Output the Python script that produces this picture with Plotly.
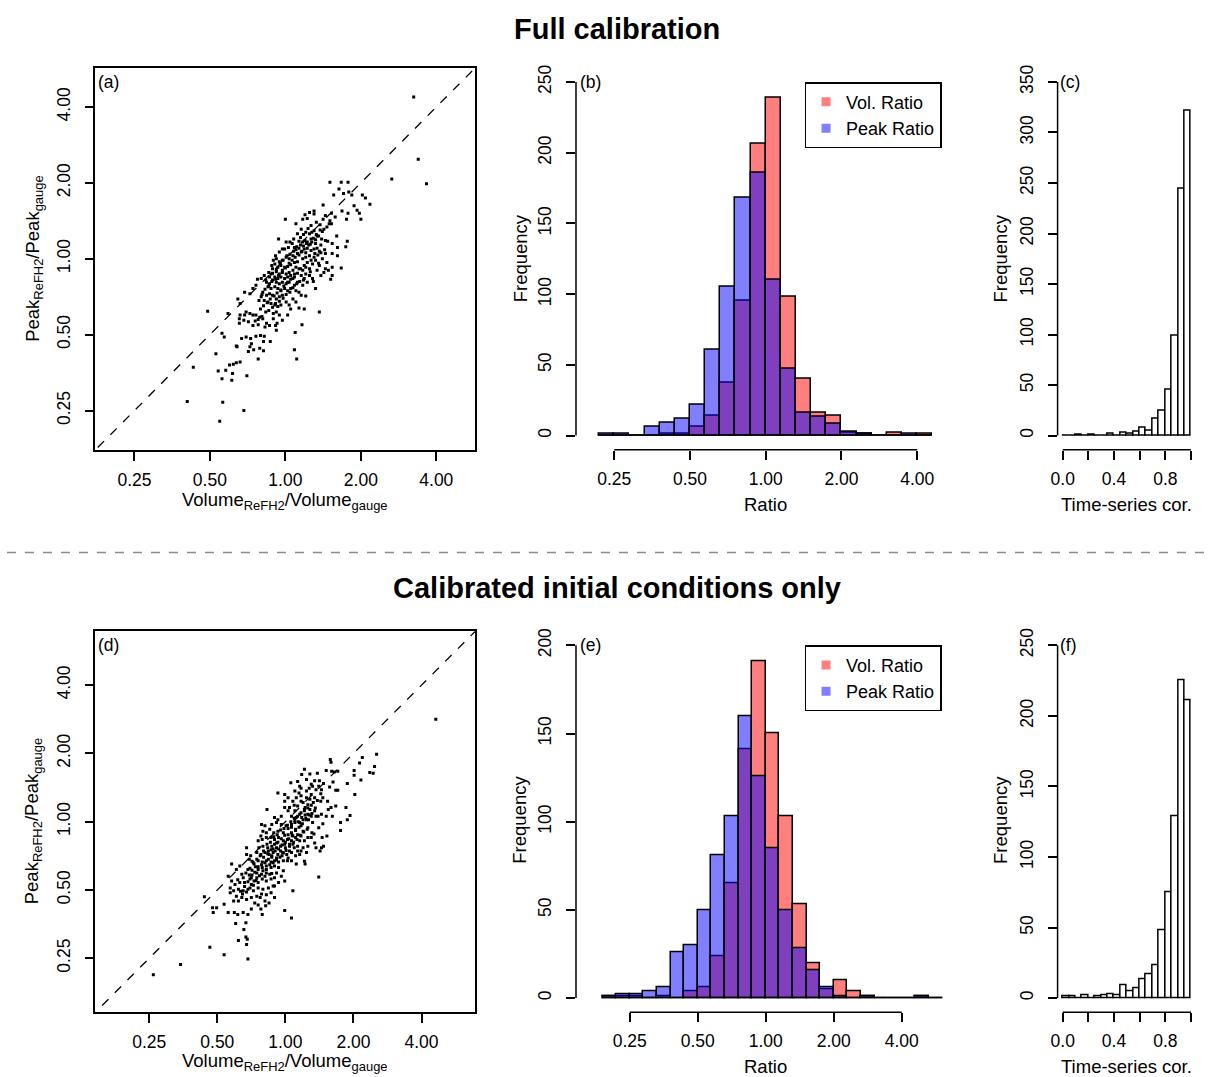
import plotly.graph_objects as go

# ---- scatter data: log2 of the ratios (a) and (d) ----
a_vol = [1.76, 1.41, 1.87, 0.59, 0.74, 0.83, 0.71, 0.64, 0.77, 0.84,
         0.88, 1.02, 1.06, 1.12, 0.50, 0.75, 0.83, 0.91, 0.95, 0.98,
         1.00, 0.81, 0.61, 0.53, 0.00, 0.14, 0.26, 0.32, 0.38, 0.38,
         0.29, 0.23, 0.50, 0.46, 0.58, 0.61, 0.51, 0.38, 0.35, 0.32,
         0.27, 0.24, 0.20, 0.18, 0.23, 0.26, 0.68, 0.82, 0.80, 0.69,
         0.62, 0.56, 0.53, 0.48, -0.09, 0.01, 0.04, -0.01, 0.09, 0.12,
         0.14, 0.18, 0.16, 0.21, 0.25, 0.29, 0.34, 0.38, 0.42, 0.45,
         0.39, 0.32, 0.27, 0.23, 0.49, 0.69, 0.74, 0.62, 0.57, 0.62,
         0.60, 0.51, 0.42, 0.47, 0.40, 0.36, 0.32, 0.27, 0.25, 0.23,
         0.27, 0.21, 0.18, 0.14, 0.25, 0.18, 0.45, 0.22, 0.13, 0.12,
         0.15, 0.10, 0.05, 0.01, -0.04, -0.08, -0.12, -0.14, -0.10, -0.06,
         -0.01, 0.03, 0.07, 0.12, 0.16, 0.14, 0.10, 0.05, 0.01, -0.04,
         -0.08, -0.12, -0.17, -0.19, -0.14, -0.10, -0.06, -0.01, 0.03, 0.07,
         0.12, 0.10, 0.05, 0.01, -0.04, -0.08, -0.12, -0.17, -0.21, -0.25,
         -0.23, -0.19, -0.14, -0.10, -0.06, -0.01, 0.03, 0.07, 0.12, -0.04,
         -0.08, -0.12, -0.17, -0.21, -0.25, -0.30, -0.32, -0.28, -0.23, -0.19,
         -0.14, -0.10, -0.06, 0.01, 0.05, 0.10, 0.14, 0.07, 0.03, -0.08,
         -0.12, -0.16, -0.16, -0.11, -0.13, -0.21, -0.25, -0.30, -0.34, -0.39,
         -0.43, -0.47, -0.52, -0.54, -0.60, -0.61, -0.61, -0.55, -0.49, -0.43,
         -0.36, -0.27, -0.12, -0.04, -0.58, -0.52, -0.46, -0.39, -0.33, -0.28,
         -0.20, -0.29, -0.45, -0.47, -0.49, -0.42, -0.34, -0.29, -0.36, -0.64,
         -0.92, -0.60, -0.65, -0.69, -0.74, -0.79, -0.89, -0.84, -0.71, -0.70,
         -0.51, -1.22, -1.03, -0.84, -0.81, -0.65, -0.83, -0.55, -0.87, -1.30,
         -0.76, -0.63, -0.60, -0.54, -0.47, -0.43, -0.39, -0.37, -0.32, -0.28,
         -0.22, -0.18, -0.16, -0.13, -0.08, -0.04, 0.06, 0.11, 0.16, 0.21,
         0.53, 0.45, 0.36, 0.32, 0.27, 0.23, 0.21, 0.16, 0.18, 0.40,
         0.62, 0.53, 0.47, 0.40, 0.29, 0.34, 0.42, 0.34, 0.41, 0.30, 1.70,
         # dense core
         -0.35, -0.31, -0.27, -0.22, -0.18, -0.13, -0.09, -0.04, 0.00, 0.05,
         0.09, 0.13, 0.18, 0.22, 0.27, 0.31, 0.35, 0.40, 0.44, 0.49,
         -0.33, -0.29, -0.24, -0.20, -0.15, -0.11, -0.06, -0.02, 0.03, 0.07,
         0.12, 0.16, 0.20, 0.25, 0.29, 0.34, 0.38, 0.43, 0.47, 0.52,
         -0.26, -0.21, -0.17, -0.12, -0.07, -0.03, 0.02, 0.06, 0.11, 0.15,
         0.20, 0.24, 0.28, 0.33, 0.37, 0.41, 0.46, 0.55, 0.59, 0.66,
         -0.40, -0.36, -0.31, -0.26, -0.22, -0.17, -0.13, -0.08, -0.03, 0.01,
         0.06, 0.10, 0.15, 0.19, 0.24, 0.29, 0.33, 0.37, 0.44, 0.55]
a_peak = [1.31, 1.05, 0.99, 1.01, 1.01, 1.01, 0.92, 0.84, 0.86, 0.88,
          0.84, 0.84, 0.80, 0.72, 0.71, 0.63, 0.60, 0.70, 0.64, 0.60,
          0.52, 0.52, 0.60, 0.57, 0.52, 0.46, 0.58, 0.61, 0.63, 0.59,
          0.53, 0.52, 0.52, 0.45, 0.46, 0.46, 0.39, 0.37, 0.35, 0.33,
          0.35, 0.32, 0.28, 0.23, 0.22, 0.24, 0.30, 0.23, 0.16, 0.15,
          0.20, 0.23, 0.24, 0.26, 0.26, 0.22, 0.15, 0.13, 0.20, 0.15,
          0.12, 0.14, 0.07, 0.09, 0.13, 0.14, 0.11, 0.13, 0.14, 0.10,
          0.07, 0.04, 0.02, 0.00, 0.00, 0.04, -0.12, -0.11, -0.15, -0.22,
          -0.27, -0.18, -0.15, -0.22, -0.39, -0.26, -0.22, -0.20, -0.26, -0.35,
          -0.49, -0.48, -0.44, -0.42, -0.66, -0.65, -0.70, -0.87, -0.97, -1.20,
          -1.32, 0.04, 0.00, 0.02, -0.02, -0.04, 0.00, -0.07, -0.11, -0.09,
          -0.11, -0.10, -0.08, -0.05, -0.04, -0.11, -0.15, -0.18, -0.20, -0.18,
          -0.20, -0.17, -0.13, -0.20, -0.24, -0.26, -0.24, -0.26, -0.24, -0.22,
          -0.20, -0.26, -0.31, -0.33, -0.31, -0.33, -0.31, -0.28, -0.33, -0.31,
          -0.37, -0.39, -0.37, -0.39, -0.42, -0.39, -0.42, -0.39, -0.35, -0.48,
          -0.50, -0.53, -0.48, -0.46, -0.48, -0.44, -0.50, -0.55, -0.57, -0.59,
          -0.61, -0.63, -0.61, -0.57, -0.61, -0.53, -0.57, -0.66, -0.74, -0.74,
          -0.70, -0.72, -0.79, -0.85, -0.88, -0.88, -0.85, -0.79, -0.77, -0.74,
          -0.74, -0.72, -0.70, -0.74, -0.74, -0.79, -0.85, -0.81, -0.83, -0.88,
          -0.87, -0.90, -0.94, -0.81, -1.05, -1.03, -1.05, -1.02, -1.01, -1.02,
          -1.09, -1.09, -1.12, -1.16, -1.22, -1.20, -1.18, -1.21, -1.32, -1.16,
          -1.25, -1.36, -1.37, -1.39, -1.40, -1.47, -1.48, -1.58, -1.60, -1.51,
          -1.54, -1.43, -0.69, -0.98, -1.03, -1.15, -1.89, -2.00, -2.14, -1.88,
          -0.72, -0.53, -0.59, -0.44, -0.46, -0.39, -0.35, -0.27, -0.26, -0.22,
          -0.18, -0.09, -0.02, 0.04, 0.09, 0.13, 0.22, 0.26, 0.33, 0.39,
          -0.13, -0.09, -0.07, -0.13, -0.11, -0.15, -0.22, -0.31, -0.13, -0.02,
          0.07, 0.07, 0.18, 0.20, 0.22, 0.26, 0.30, 0.44, 0.48, 0.40, 2.13,
          # dense core
          -0.55, -0.47, -0.40, -0.36, -0.30, -0.27, -0.22, -0.15, -0.12, -0.06,
          -0.02, 0.02, 0.05, 0.10, 0.08, 0.18, 0.22, 0.25, 0.30, 0.36,
          -0.66, -0.62, -0.58, -0.53, -0.49, -0.45, -0.41, -0.36, -0.31, -0.27,
          -0.24, -0.19, -0.13, -0.09, -0.05, -0.02, 0.02, 0.05, 0.08, 0.12,
          -0.28, -0.24, -0.19, -0.14, -0.06, -0.02, 0.04, 0.06, 0.10, 0.16,
          0.18, 0.17, 0.20, 0.19, 0.27, 0.32, 0.38, 0.42, 0.50, 0.55,
          -0.82, -0.80, -0.76, -0.70, -0.68, -0.64, -0.59, -0.56, -0.52, -0.47,
          -0.44, -0.38, -0.33, -0.30, -0.28, -0.31, -0.17, -0.30, -0.06, -0.05]

d_vol = [1.34, 1.31, 1.29, 1.24, 1.13, 1.09, 1.01, 1.01, 1.11, 0.91,
         1.02, 0.89, 0.81, 0.81, 0.91, 0.95, 0.66, 0.67, 0.77, 0.72,
         0.68, 0.60, 0.77, 0.74, 0.70, 0.65, 0.63, 0.67, 0.74, 0.69,
         0.61, 0.56, 0.51, 0.49, 0.53, 0.45, 0.43, 0.39, 0.42, 0.38,
         0.54, 0.49, 0.55, 0.60, 0.53, 0.45, 0.43, 0.47, 0.52, 0.52,
         0.53, 0.49, 0.45, 0.43, 0.47, 0.38, 0.35, 0.38, 0.36, 0.31,
         0.33, 0.26, 0.28, 0.33, 0.24, 0.31, 0.36, 0.21, 0.20, 0.16,
         0.08, 0.11, 0.18, 0.14, 0.21, 0.26, 0.21, 0.16, 0.09, -0.01,
         -0.11, -0.01, 0.04, -0.06, -0.11, -0.16, -0.27, -0.20, -0.13, -0.06,
         0.01, 0.09, 0.15, 0.09, 0.04, -0.03, -0.11, -0.17, -0.23, -0.28,
         -0.30, -0.35, -0.33, -0.36, -0.40, -0.34, -0.28, -0.21, -0.16, -0.10,
         -0.03, 0.03, 0.09, 0.15, 0.21, 0.23, 0.28, 0.33, 0.26, 0.18,
         0.13, 0.06, 0.00, -0.07, -0.13, -0.20, -0.26, -0.33, -0.39, -0.42,
         -0.36, -0.30, -0.24, -0.18, -0.11, -0.04, 0.02, 0.09, 0.15, 0.21,
         0.28, 0.29, 0.16, 0.09, 0.03, -0.03, -0.10, -0.16, -0.21, -0.28,
         -0.34, -0.40, -0.46, -0.40, -0.34, -0.28, -0.21, -0.16, -0.10, -0.03,
         -0.13, -0.20, -0.28, -0.35, -0.42, -0.49, -0.55, -0.57, -0.57, -0.53,
         -0.79, -0.67, -0.84, -0.79, -0.74, -0.67, -0.62, -0.60, -0.52, -0.46,
         -0.40, -0.34, -0.28, -0.21, -0.16, -0.06, -0.10, -0.18, -0.25, -0.33,
         -0.40, -0.47, -0.55, -0.62, -0.69, -0.76, -0.81, -0.72, -0.64, -0.57,
         -0.50, -0.42, -0.35, -0.28, -0.21, -0.16, -0.16, -0.01, 0.11, -0.01,
         0.09, -0.90, -0.84, -0.75, -0.70, -0.62, -0.55, -0.50, -0.36, -0.34,
         -0.29, -0.24, -0.40, -0.45, -1.07, -1.01, -1.06, -1.19, -0.73, -0.58,
         -0.61, -0.69, -0.58, -0.56, -0.57, -1.11, -0.90, -0.55, -1.54, -0.51,
         -0.49, -0.64, -0.72, -0.81, -0.76, -0.69, -0.37, -0.30, -0.50, -0.42,
         -0.53, -0.30, -0.23, -0.13, -0.07, -0.01, 0.06, -0.18, -0.25, -0.20,
         -0.13, -0.05, 0.04, 0.11, 0.18, 0.23, 0.31, 0.33, 0.26, 0.18,
         0.11, 0.06, 0.13, 0.23, 0.29, 0.36, 0.38, 0.31, 0.23, 0.14,
         0.33, 0.40, 0.48, 0.38, 0.43, 0.31, 0.23, 0.04, -0.01, 0.18,
         0.14, 0.23, 0.40, 0.50, 0.56, 0.55, 0.62, 0.28, 2.21, -1.94,
         # dense core
         -0.60, -0.55, -0.50, -0.45, -0.40, -0.35, -0.30, -0.25, -0.20, -0.15,
         -0.10, -0.05, 0.00, 0.05, 0.10, 0.15, 0.20, 0.25, 0.30, 0.35,
         -0.58, -0.52, -0.47, -0.42, -0.37, -0.32, -0.27, -0.22, -0.17, -0.12,
         -0.07, -0.02, 0.03, 0.08, 0.13, 0.18, 0.23, 0.28, 0.33, 0.41,
         -0.63, -0.57, -0.52, -0.47, -0.43, -0.38, -0.33, -0.28, -0.23, -0.18,
         -0.13, -0.08, -0.03, 0.01, 0.06, 0.12, 0.17, 0.22, 0.27, 0.32,
         -0.32, -0.26, -0.21, -0.16, -0.11, -0.06, -0.01, 0.04, 0.09, 0.14,
         0.19, 0.24, 0.29, 0.34, 0.39, 0.44, -0.44, -0.49, -0.70, -0.66]
d_peak = [0.99, 0.81, 0.71, 0.72, 0.94, 0.86, 0.75, 0.68, 0.61, 0.56,
          0.40, 0.21, -0.01, -0.13, 0.03, 0.09, 0.91, 0.87, 0.74, 0.73,
          0.74, 0.75, 0.46, 0.46, 0.58, 0.51, 0.18, 0.21, 0.23, 0.08,
          -0.21, -0.36, -0.43, -0.81, -0.38, -0.38, -0.31, -0.16, -0.18, -0.23,
          -0.23, -0.09, -0.03, 0.08, 0.11, 0.08, 0.16, 0.31, 0.30, 0.41,
          0.47, 0.52, 0.47, 0.60, 0.71, 0.55, 0.49, 0.40, 0.33, 0.35,
          0.25, 0.28, 0.16, 0.11, 0.69, 0.62, 0.70, 0.52, 0.42, 0.35,
          0.57, 0.30, 0.23, 0.16, 0.11, 0.03, -0.01, 0.06, 0.08, 0.30,
          0.42, 0.21, 0.16, 0.08, 0.03, 0.06, 0.18, -0.04, -0.01, -0.04,
          -0.06, -0.04, -0.11, -0.16, -0.19, -0.16, -0.14, -0.16, -0.11, -0.16,
          -0.06, -0.04, -0.14, -0.21, -0.28, -0.26, -0.23, -0.23, -0.26, -0.23,
          -0.28, -0.26, -0.28, -0.23, -0.28, -0.21, -0.28, -0.36, -0.38, -0.36,
          -0.38, -0.36, -0.38, -0.36, -0.38, -0.36, -0.38, -0.36, -0.38, -0.45,
          -0.48, -0.45, -0.48, -0.45, -0.48, -0.45, -0.48, -0.45, -0.50, -0.48,
          -0.58, -0.62, -0.62, -0.57, -0.57, -0.57, -0.59, -0.57, -0.59, -0.57,
          -0.59, -0.57, -0.62, -0.66, -0.67, -0.65, -0.67, -0.65, -0.67, -0.72,
          -0.75, -0.76, -0.75, -0.77, -0.75, -0.71, -0.70, -0.38, -0.48, -0.55,
          -0.62, -0.65, -0.80, -0.87, -0.92, -0.89, -0.82, -0.89, -0.84, -0.87,
          -0.89, -0.84, -0.87, -0.84, -0.82, -0.80, -0.89, -0.94, -0.97, -0.99,
          -0.97, -1.01, -0.99, -1.01, -0.99, -1.01, -1.04, -1.09, -1.11, -1.14,
          -1.11, -1.09, -1.06, -1.07, -1.04, -1.11, -0.94, -0.87, -1.01, -1.30,
          -1.41, -1.21, -1.33, -1.33, -1.36, -1.33, -1.36, -1.28, -1.28, -1.36,
          -1.23, -1.19, -1.22, -1.19, -1.26, -1.26, -1.33, -1.10, -1.49, -1.48,
          -1.58, -1.74, -1.69, -1.72, -1.80, -1.84, -1.95, -2.01, -2.09, -0.50,
          -0.58, -0.77, -0.70, -0.97, -1.16, -1.16, -1.11, -1.16, -0.92, -0.82,
          -0.78, -0.80, -0.77, -0.31, -0.43, -0.33, -0.43, -0.40, -0.43, -0.50,
          -0.53, -0.50, -0.53, -0.33, -0.43, -0.43, -0.45, -0.23, -0.14, -0.19,
          -0.21, 0.21, 0.24, 0.30, 0.21, 0.18, 0.08, 0.03, -0.06, -0.01,
          -0.09, -0.01, 0.08, 0.24, 0.35, 0.45, 0.38, 0.35, 0.40, 0.59,
          0.45, 0.49, 0.52, 0.60, 0.56, 0.35, 0.30, 0.77, 1.50, -2.24,
          # dense core
          -0.95, -0.88, -0.82, -0.74, -0.70, -0.63, -0.60, -0.55, -0.52, -0.43,
          -0.40, -0.34, -0.30, -0.25, -0.20, -0.13, -0.08, -0.03, 0.05, 0.10,
          -0.75, -0.68, -0.60, -0.55, -0.50, -0.43, -0.33, -0.30, -0.22, -0.19,
          -0.12, -0.10, -0.05, 0.00, 0.05, 0.08, 0.13, 0.18, 0.20, 0.28,
          -1.06, -1.03, -0.97, -0.93, -0.86, -0.79, -0.72, -0.70, -0.63, -0.60,
          -0.56, -0.52, -0.46, -0.42, -0.33, -0.30, -0.26, -0.20, -0.15, -0.11,
          -0.52, -0.47, -0.41, -0.33, -0.30, -0.25, -0.20, -0.10, -0.08, 0.02,
          0.00, 0.06, 0.10, 0.03, 0.12, 0.20, -0.66, -0.78, -0.85, -1.02]

# ---- ratio histograms: bin centres in log2(ratio), counts per bin ----
b_bins = [-2.1, -1.9, -1.7, -1.5, -1.3, -1.1, -0.9, -0.7, -0.5, -0.3, -0.1,
          0.1, 0.3, 0.5, 0.7, 0.9, 1.1, 1.3, 1.5, 1.7, 1.9, 2.1]
b_vol = [0, 0, 0, 0, 1, 1, 6, 14, 37, 95, 206,
         239, 98, 40, 16, 14, 2, 1, 0, 2, 0, 1]
b_peak = [1, 1, 0, 6, 9, 12, 22, 61, 105, 168, 186,
          110, 47, 16, 13, 8, 3, 1, 0, 0, 1, 0]

e_bins = [-2.3, -2.1, -1.9, -1.7, -1.5, -1.3, -1.1, -0.9, -0.7, -0.5, -0.3, -0.1,
          0.1, 0.3, 0.5, 0.7, 0.9, 1.1, 1.3, 1.5, 1.7, 1.9, 2.1, 2.3, 2.5]
e_vol = [1, 1, 1, 0, 1, 0, 4, 6, 24, 65, 141, 191,
         150, 103, 53, 20, 5, 10, 4, 1, 0, 0, 0, 1, 0]
e_peak = [1, 2, 2, 4, 6, 26, 30, 50, 81, 103, 160, 126,
          85, 50, 28, 16, 6, 1, 0, 1, 0, 0, 0, 1, 0]

# ---- time-series correlation histograms ----
cor_bins = [0.025, 0.075, 0.125, 0.175, 0.225, 0.275, 0.325, 0.375, 0.425, 0.475,
            0.525, 0.575, 0.625, 0.675, 0.725, 0.775, 0.825, 0.875, 0.925, 0.975]
c_counts = [0, 0, 1, 0, 1, 0, 0, 2, 0, 3, 2, 4, 8, 5, 17, 25, 45, 99, 244, 321]
f_counts = [1, 1, 0, 2, 0, 1, 2, 3, 2, 9, 5, 7, 13, 17, 23, 48, 75, 129, 225, 211]

ratio_ticks = [-2, -1, 0, 1, 2]
ratio_labels = ["0.25", "0.50", "1.00", "2.00", "4.00"]
cor_ticks = [0, 0.4, 0.8]
cor_labels = ["0.0", "0.4", "0.8"]
cor_unlabelled = [0.2, 0.6, 1.0]

W, H = 1210, 1077
FONT = "Liberation Sans, Arial, Helvetica, sans-serif"
RED = "rgba(255,0,0,0.5)"
BLUE = "rgba(0,0,255,0.5)"


def px(x):
    return x / W


def py(y):
    return 1 - y / H


# column and row domains (paper fractions)
col_a = [px(89), px(471)]
col_b = [px(572.3), px(954)]
col_c = [px(1056.7), px(1196)]
row_top = [py(448), py(65)]
row_bot = [py(1012), py(630)]

fig = go.Figure()

# scatter panels with 1:1 line
for xs, ys, n in [(a_vol, a_peak, ""), (d_vol, d_peak, "4")]:
    fig.add_trace(go.Scatter(x=[-4, 4], y=[-4, 4], mode="lines",
                             line=dict(color="black", dash="dash", width=1.3),
                             xaxis="x" + n, yaxis="y" + n,
                             showlegend=False, hoverinfo="skip"))
    fig.add_trace(go.Scatter(x=xs, y=ys, mode="markers",
                             marker=dict(symbol="square", size=3, color="black"),
                             xaxis="x" + n, yaxis="y" + n, showlegend=False))

# overlaid ratio histograms
for bins, vol, peak, n in [(b_bins, b_vol, b_peak, "2"), (e_bins, e_vol, e_peak, "5")]:
    for counts, col in [(vol, RED), (peak, BLUE)]:
        fig.add_trace(go.Bar(x=bins, y=counts, width=0.2,
                             marker=dict(color=col, line=dict(color="black", width=1.5)),
                             xaxis="x" + n, yaxis="y" + n, showlegend=False))

# correlation histograms
for counts, n in [(c_counts, "3"), (f_counts, "6")]:
    fig.add_trace(go.Bar(x=cor_bins, y=counts, width=0.05,
                         marker=dict(color="white", line=dict(color="black", width=1.5)),
                         xaxis="x" + n, yaxis="y" + n, showlegend=False))

# legend entries
for leg in ["legend", "legend2"]:
    for name, col in [("Vol. Ratio", RED), ("Peak Ratio", BLUE)]:
        fig.add_trace(go.Scatter(x=[None], y=[None], mode="markers", name=name,
                                 marker=dict(symbol="square", size=9, color=col),
                                 xaxis="x2", yaxis="y2", legend=leg))

tick_common = dict(ticks="outside", ticklen=9, tickwidth=1.5, tickcolor="black",
                   showgrid=False, zeroline=False, tickfont=dict(size=17.5))


def scatter_axes(dom_x, dom_y, rng, anchor):
    xa = dict(domain=dom_x, range=[-rng, rng], anchor="y" + anchor,
              tickvals=ratio_ticks, ticktext=ratio_labels, ticklabelstandoff=4,
              showline=True, mirror=True, linecolor="black", linewidth=1.5, **tick_common)
    ya = dict(domain=dom_y, range=[-rng, rng], anchor="x" + anchor,
              tickvals=ratio_ticks, ticktext=ratio_labels, tickangle=-90, ticklabelstandoff=8,
              showline=True, mirror=True, linecolor="black", linewidth=1.5, **tick_common)
    return xa, ya


def hist_axes(dom_x, dom_y, xr, yr, xt, xl, yt, anchor, minor=None):
    xa = dict(domain=dom_x, range=xr, anchor="y" + anchor, ticklabelstandoff=4,
              tickvals=xt, ticktext=xl, showline=False, **tick_common)
    if minor:
        xa["minor"] = dict(tickvals=minor, ticks="outside", ticklen=9, tickwidth=1.5,
                           tickcolor="black", showgrid=False)
    ya = dict(domain=dom_y, range=yr, anchor="x" + anchor, ticklabelstandoff=8,
              tickvals=yt, ticktext=[str(v) for v in yt], tickangle=-90,
              showline=False, **tick_common)
    return xa, ya


xa1, ya1 = scatter_axes(col_a, row_top, 2.516, "")
xa4, ya4 = scatter_axes(col_a, row_bot, 2.79, "4")
xa2, ya2 = hist_axes(col_b, row_top, [-2.505, 2.505], [-10, 260], ratio_ticks, ratio_labels,
                     [0, 50, 100, 150, 200, 250], "2")
xa5, ya5 = hist_axes(col_b, row_bot, [-2.79, 2.79], [-8, 208], ratio_ticks, ratio_labels,
                     [0, 50, 100, 150, 200], "5")
xa3, ya3 = hist_axes(col_c, row_top, [-0.04, 1.04], [-14, 364], cor_ticks, cor_labels,
                     [0, 50, 100, 150, 200, 250, 300, 350], "3", cor_unlabelled)
xa6, ya6 = hist_axes(col_c, row_bot, [-0.04, 1.04], [-10, 260], cor_ticks, cor_labels,
                     [0, 50, 100, 150, 200, 250], "6", cor_unlabelled)

# R-style axis lines that only span the tick range
shapes = []
for n, x0, x1, y1 in [("2", -2, 2, 250), ("5", -2, 2, 200), ("3", 0, 1, 350), ("6", 0, 1, 250)]:
    shapes.append(dict(type="line", xref="x" + n, yref="y" + n + " domain",
                       x0=x0, x1=x1, y0=0, y1=0, line=dict(color="black", width=1.5)))
    shapes.append(dict(type="line", xref="x" + n + " domain", yref="y" + n,
                       x0=0, x1=0, y0=0, y1=y1, line=dict(color="black", width=1.5)))
shapes.append(dict(type="line", xref="paper", yref="paper", x0=0, x1=1,
                   y0=py(551), y1=py(551), line=dict(color="#8c8c8c", width=1.5, dash="dash")))

ann = []


def label(text, x, y, size=18.5, angle=0, bold=False, xanchor="center"):
    ann.append(dict(text="<b>%s</b>" % text if bold else text, x=px(x), y=py(y),
                    xref="paper", yref="paper", showarrow=False, textangle=angle,
                    xanchor=xanchor, yanchor="middle", font=dict(size=size)))


label("Full calibration", 614, 26, size=29, bold=True)
label("Calibrated initial conditions only", 614, 587, size=29, bold=True)

vol_title = "Volume<sub>ReFH2</sub>/Volume<sub>gauge</sub>"
peak_title = "Peak<sub>ReFH2</sub>/Peak<sub>gauge</sub>"
for top, yx, ylab in [(0, 499, 256.7), (563, 1062, 820.7)]:
    label(vol_title, 280, yx)
    label(peak_title, 27, ylab, angle=-90)
    label("Ratio", 763, 503 + top)
    label("Frequency", 516, 256 + top, angle=-90)
    label("Frequency", 999, 256 + top, angle=-90)
    label("Time-series cor.", 1126, 503 + top)

for t, x, y in [("(a)", 90, 79), ("(b)", 574, 79), ("(c)", 1057, 79),
                ("(d)", 90, 644), ("(e)", 574, 644), ("(f)", 1057, 644)]:
    label(t, x, y, size=17.5, xanchor="left")

leg_style = dict(xref="paper", yref="paper", xanchor="right", yanchor="top",
                 bordercolor="black", borderwidth=1.5, bgcolor="white",
                 font=dict(size=18), tracegroupgap=0, itemwidth=30)

fig.update_layout(
    width=W, height=H,
    margin=dict(l=0, r=0, t=0, b=0),
    paper_bgcolor="white", plot_bgcolor="white",
    font=dict(family=FONT, size=17.5, color="black"),
    barmode="overlay", bargap=0,
    xaxis=xa1, yaxis=ya1, xaxis2=xa2, yaxis2=ya2, xaxis3=xa3, yaxis3=ya3,
    xaxis4=xa4, yaxis4=ya4, xaxis5=xa5, yaxis5=ya5, xaxis6=xa6, yaxis6=ya6,
    shapes=shapes, annotations=ann,
    legend=dict(x=px(940), y=py(79.3), **leg_style),
    legend2=dict(x=px(940), y=py(644), **leg_style),
)

# drop the browser's default page margin so the figure sits at the window origin
fig.write_html("out.html", config={"displayModeBar": False},
               post_script="document.body.style.margin='0';"
                           "document.body.style.overflow='hidden';")
